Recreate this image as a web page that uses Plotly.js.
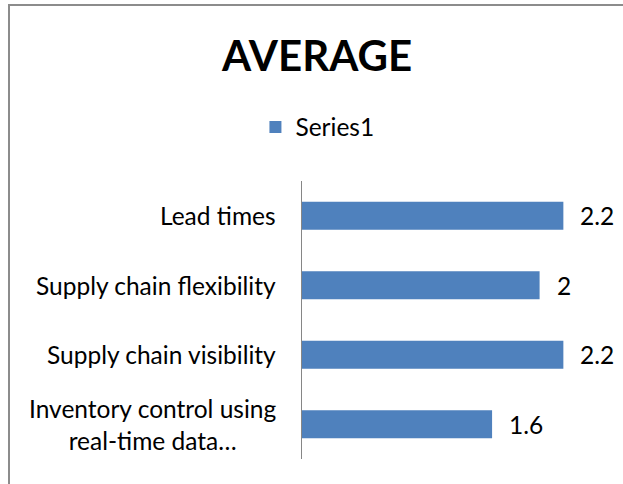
<!DOCTYPE html>
<html>
<head>
<meta charset="utf-8">
<script src="https://cdn.plot.ly/plotly-3.0.1.min.js"></script>
<style>
  html, body { margin: 0; padding: 0; background: #ffffff; }
  #wrap { position: relative; width: 623px; height: 484px; overflow: hidden; }
  #frame { position: absolute; left: 8px; top: 4px; width: 700px; height: 600px;
           border-left: 2px solid #8c8c8c; border-top: 2px solid #8c8c8c; pointer-events: none; z-index: 2; }
  #chart { position: absolute; left: 0; top: 0; width: 623px; height: 484px; }
</style>
</head>
<body>
<div id="wrap">
  <div id="chart"></div>
  <div id="frame"></div>
</div>
<script>
// Data (top to bottom)
const categories = [
  "Lead times",
  "Supply chain flexibility",
  "Supply chain visibility",
  "Inventory control using real-time data"
];
const categoryLabels = [
  "Lead times",
  "Supply chain flexibility",
  "Supply chain visibility",
  "Inventory control using<br>real-time data\u2026"
];
const values = [2.2, 2, 2.2, 1.6];
const valueLabels = ["2.2", "2", "2.2", "1.6"];
const seriesName = "Series1";
const chartTitle = "AVERAGE";

const FONT = "Lato, 'Open Sans', sans-serif";
const FS = 24.5;

const trace = {
  type: "bar",
  orientation: "h",
  name: seriesName,
  x: values,
  y: categories,
  marker: { color: "#4F81BD", line: { width: 0 } },
  width: 0.4,
  hoverinfo: "x+y",
  showlegend: true
};

const valueAnnotations = values.map((v, i) => ({
  x: v, y: categories[i], xref: "x", yref: "y",
  text: valueLabels[i], showarrow: false,
  xanchor: "left", yanchor: "middle", xshift: 15,
  font: { family: FONT, size: FS, color: "#000000" }
}));

const categoryAnnotations = categories.map((c, i) => ({
  x: 0, y: c, xref: "paper", yref: "y",
  text: categoryLabels[i], showarrow: false,
  xanchor: "right", yanchor: "middle", xshift: -24, align: "center",
  font: { family: FONT, size: FS, color: "#000000" }
}));

const layout = {
  width: 623, height: 484,
  margin: { l: 302, r: 24, t: 181, b: 25 },
  paper_bgcolor: "#ffffff",
  plot_bgcolor: "#ffffff",
  title: {
    text: "<b>" + chartTitle + "</b>",
    x: 0.509, xref: "container", xanchor: "center",
    y: 1 - 56 / 484, yref: "container", yanchor: "middle",
    font: { family: FONT, size: 42, color: "#000000" }
  },
  showlegend: true,
  legend: {
    orientation: "h",
    x: 0.41, xref: "container", xanchor: "left",
    y: 1 - 127 / 484, yref: "container", yanchor: "middle",
    font: { family: FONT, size: FS, color: "#000000" },
    bgcolor: "rgba(0,0,0,0)"
  },
  xaxis: {
    range: [0, 2.5], visible: false, showgrid: false, zeroline: false, fixedrange: true
  },
  yaxis: {
    type: "category",
    autorange: "reversed",
    showline: true, linecolor: "#868686", linewidth: 1.5,
    showgrid: false, zeroline: false, ticks: "",
    showticklabels: false,
    fixedrange: true
  },
  annotations: valueAnnotations.concat(categoryAnnotations),
  bargap: 0.6
};

Plotly.newPlot("chart", [trace], layout, { displayModeBar: false, staticPlot: true });
</script>
</body>
</html>
